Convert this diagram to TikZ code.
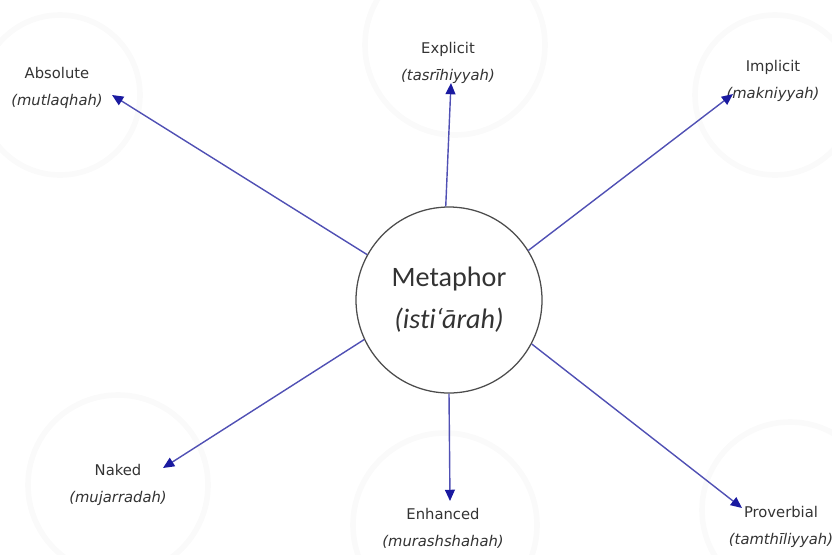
\documentclass[tikz,border=0pt]{standalone}
\usepackage{fontspec}
\setmainfont{Carlito}[Ligatures=NoCommon]
\newfontfamily\labelfont{DejaVu Sans}
\usetikzlibrary{arrows.meta}
\definecolor{arrowblue}{HTML}{5050B4}
\definecolor{tipblue}{HTML}{1A1AA0}
\definecolor{textgray}{HTML}{333333}
\tikzset{
  kind/.style={font=\labelfont\fontsize{10.5}{19}\selectfont,text=textgray,align=center,inner sep=0pt},
  branch/.style={draw=arrowblue,line width=1pt,-{Triangle[length=8pt,width=7pt,color=tipblue]}},
  halo/.style={draw=black!2,line width=4pt}
}
\begin{document}
\begin{tikzpicture}[x=0.025cm,y=-0.025cm]
\pgfmathsetmacro{\metar}{93}
\useasboundingbox (0,0) rectangle (832,554);
% faint circles behind the labels
\draw[halo] (60,95) circle (80);
\draw[halo] (455,45) circle (90);
\draw[halo] (775,95) circle (80);
\draw[halo] (118,485) circle (90);
\draw[halo] (445,525) circle (92);
\draw[halo] (790,510) circle (88);
% centre
\node[circle,draw=black!70,line width=0.9pt,minimum size=2*\metar*0.025cm,inner sep=0pt,
  font=\fontsize{20}{30}\selectfont,text=textgray,align=center] (meta) at (449,300)
  {Metaphor\\\textit{(isti‘ārah)}};
% labels
\node[kind] (absolute) at (57,88) {Absolute\\\textit{(mutlaqhah)}};
\node[kind] (explicit) at (448,63) {Explicit\\\textit{(tasrīhiyyah)}};
\node[kind] (implicit) at (773,81) {Implicit\\\textit{(makniyyah)}};
\node[kind] (naked) at (118,485) {Naked\\\textit{(mujarradah)}};
\node[kind] (enhanced) at (443,528) {Enhanced\\\textit{(murashshahah)}};
\node[kind] (proverbial) at (781,527) {Proverbial\\\textit{(tamthīliyyah)}};
% arrow tips
\coordinate (absolutetip) at (112,95);
\coordinate (explicittip) at (451,83);
\coordinate (implicittip) at (733,94);
\coordinate (nakedtip) at (163,468);
\coordinate (enhancedtip) at (450,501);
\coordinate (proverbialtip) at (742,508);
\draw[branch] (meta.151) -- (absolutetip);
\draw[branch] (meta.92) -- (explicittip);
\draw[branch] (meta.32) -- (implicittip);
\draw[branch] (meta.205) -- (nakedtip);
\draw[branch] (meta.270) -- (enhancedtip);
\draw[branch] (meta.332) -- (proverbialtip);
\end{tikzpicture}
\end{document}
